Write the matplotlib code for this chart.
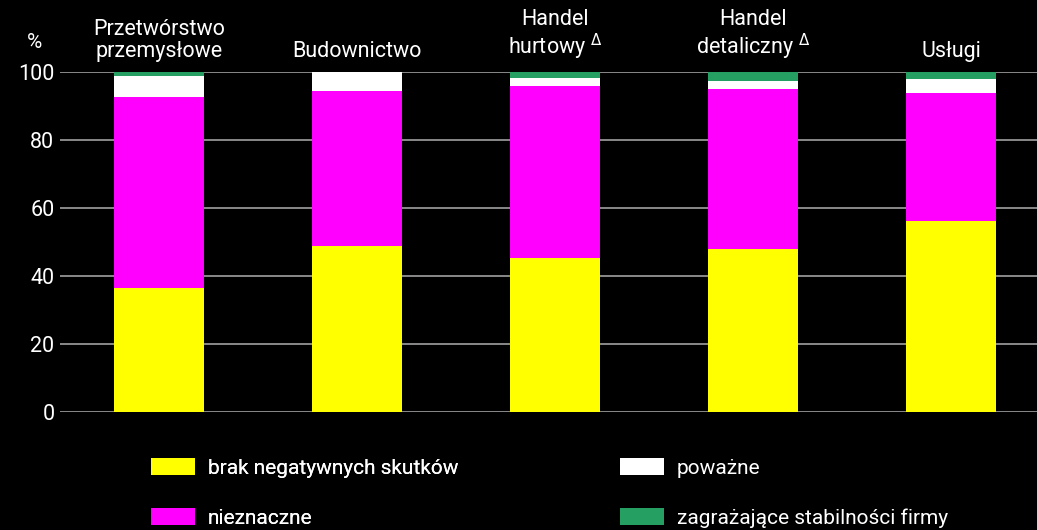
import matplotlib
matplotlib.use("Agg")
import matplotlib.pyplot as plt
from matplotlib.patches import Patch
import numpy as np

plt.rcParams['font.family'] = ['Roboto', 'DejaVu Sans']

# --- data (percent of firms) ---
categories = ["Przetwórstwo\nprzemysłowe", "Budownictwo", "Handel\nhurtowy $^{\\Delta}$",
              "Handel\ndetaliczny $^{\\Delta}$", "Usługi"]
brak = [36.5, 48.8, 45.3, 47.9, 56.2]
nieznaczne = [56.1, 45.6, 50.6, 47.1, 37.6]
powazne = [6.2, 5.6, 2.3, 2.5, 4.1]
zagrazajace = [1.2, 0.0, 1.8, 2.5, 2.1]

series_names = ["brak negatywnych skutków", "nieznaczne", "poważne",
                "zagrażające stabilności firmy"]
colors = ["#ffff00", "#ff00ff", "#ffffff", "#25a062"]

fig = plt.figure(figsize=(10.37, 5.30), dpi=100, facecolor="black")
ax = fig.add_axes([60/1037, 118/530, 977/1037, 340/530])
ax.set_facecolor("black")

x = np.arange(len(categories))
bottom = np.zeros(len(categories))
for vals, col in zip([brak, nieznaczne, powazne, zagrazajace], colors):
    ax.bar(x, vals, bottom=bottom, width=0.455, color=col, zorder=3)
    bottom += np.array(vals)

ax.set_ylim(0, 100)
ax.set_xlim(-0.5, 4.434)
ax.set_yticks(range(0, 101, 20))
ax.yaxis.grid(True, color="#a0a0a0", linewidth=1.2, zorder=0)
ax.tick_params(axis="y", length=0, labelsize=15.5, colors="white", pad=4)
ax.tick_params(axis="x", length=0, labelbottom=False)
for s in ax.spines.values():
    s.set_visible(False)

# category labels above the bars
for xi, lab in zip(x, categories):
    ax.text(xi, 103, lab, ha="center", va="bottom", color="white",
            fontsize=15.5, linespacing=1.05)

ax.text(-0.63, 106, "%", ha="center", va="bottom", color="white", fontsize=15,
        clip_on=False)

handles = [Patch(facecolor=c, edgecolor="none") for c in colors]
kw = dict(frameon=False, fontsize=15, labelcolor="white", handlelength=2.1,
          handleheight=0.9, handletextpad=0.62, labelspacing=1.45,
          borderaxespad=0, borderpad=0)
leg1 = fig.legend(handles[:2], series_names[:2], loc="upper left",
                  bbox_to_anchor=(151/1037, 1 - 458/530), **kw)
fig.add_artist(leg1)
fig.legend(handles[2:], series_names[2:], loc="upper left",
           bbox_to_anchor=(620/1037, 1 - 458/530), **kw)

fig.savefig("out.png", dpi=100, facecolor="black")
